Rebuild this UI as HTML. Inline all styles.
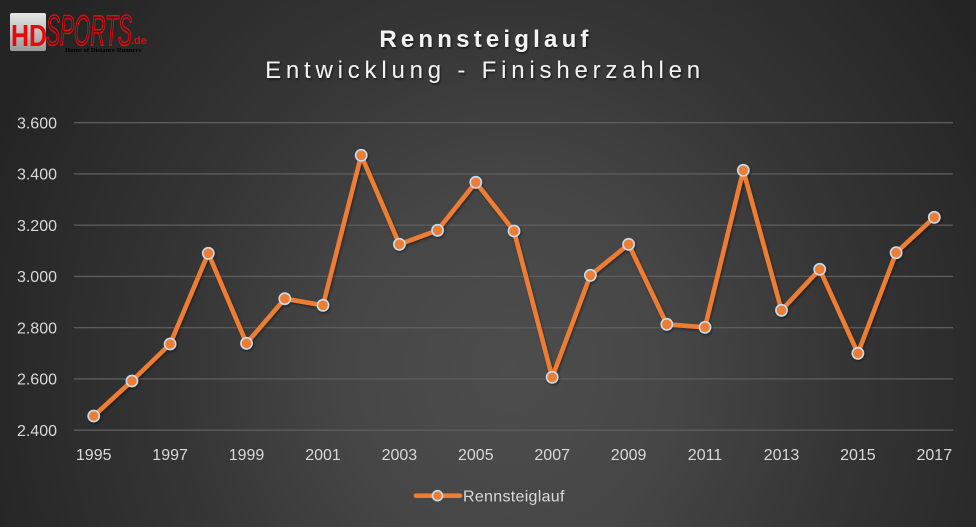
<!DOCTYPE html>
<html>
<head>
<meta charset="utf-8">
<style>
  html, body { margin: 0; padding: 0; }
  body { width: 976px; height: 527px; overflow: hidden; background: #333; }
  svg { display: block; }
</style>
</head>
<body>
<svg width="976" height="527" viewBox="0 0 976 527" xmlns="http://www.w3.org/2000/svg">
  <defs>
    <radialGradient id="bg" gradientUnits="userSpaceOnUse" cx="510" cy="370" r="600" gradientTransform="translate(510 370) scale(0.93 1) translate(-510 -370)">
      <stop offset="0" stop-color="#4d4d4d"/>
      <stop offset="0.3" stop-color="#464646"/>
      <stop offset="0.6" stop-color="#353535"/>
      <stop offset="1" stop-color="#242424"/>
    </radialGradient>
    <linearGradient id="hdbox" x1="0" y1="0" x2="0" y2="1">
      <stop offset="0" stop-color="#e6e6e6"/>
      <stop offset="1" stop-color="#9a9a9a"/>
    </linearGradient>
    <filter id="sh" x="-5%" y="-5%" width="110%" height="115%">
      <feDropShadow dx="1" dy="1.5" stdDeviation="1.2" flood-color="#000" flood-opacity="0.45"/>
    </filter>
    <filter id="tsh" x="-5%" y="-20%" width="110%" height="150%">
      <feDropShadow dx="1" dy="1.5" stdDeviation="1" flood-color="#000" flood-opacity="0.6"/>
    </filter>
  </defs>

  <rect x="0" y="0" width="976" height="527" fill="url(#bg)"/>

  <!-- Logo -->
  <g>
    <rect x="10" y="13" width="36" height="38" rx="2" fill="url(#hdbox)"/>
    <text x="11" y="46" font-family="Liberation Sans, sans-serif" font-weight="bold" font-size="31" fill="#e8070a" textLength="36" lengthAdjust="spacingAndGlyphs">HD</text>
    <text x="46" y="45" font-family="Liberation Sans, sans-serif" font-style="italic" font-size="43" fill="none" stroke="#e8070a" stroke-width="1.6" textLength="86" lengthAdjust="spacingAndGlyphs">SPORTS</text>
    <text x="131" y="44" font-family="Liberation Sans, sans-serif" font-weight="bold" font-size="11" fill="#e8070a">.de</text>
    <text x="65" y="52" font-family="Liberation Serif, serif" font-weight="bold" font-size="6.5" fill="#000" textLength="76" lengthAdjust="spacingAndGlyphs">Home of Distance Runners</text>
  </g>

  <!-- Titles -->
  <g filter="url(#tsh)" font-family="Liberation Sans, sans-serif" fill="#f2f2f2" text-anchor="middle">
    <text x="486" y="47" font-size="24" font-weight="bold" letter-spacing="4.2">Rennsteiglauf</text>
    <text x="485" y="78" font-size="24" letter-spacing="4.8">Entwicklung - Finisherzahlen</text>
  </g>

  <!-- Gridlines -->
  <g stroke="#5c5c5c" stroke-width="1.4">
    <line x1="74" y1="122.7" x2="953" y2="122.7"/>
    <line x1="74" y1="173.9" x2="953" y2="173.9"/>
    <line x1="74" y1="225.2" x2="953" y2="225.2"/>
    <line x1="74" y1="276.4" x2="953" y2="276.4"/>
    <line x1="74" y1="327.7" x2="953" y2="327.7"/>
    <line x1="74" y1="378.9" x2="953" y2="378.9"/>
    <line x1="74" y1="430.2" x2="953" y2="430.2"/>
  </g>

  <!-- Y labels -->
  <g font-family="Liberation Sans, sans-serif" font-size="16" fill="#d9d9d9" text-anchor="end">
    <text x="57" y="128.5">3.600</text>
    <text x="57" y="179.7">3.400</text>
    <text x="57" y="231">3.200</text>
    <text x="57" y="282.2">3.000</text>
    <text x="57" y="333.5">2.800</text>
    <text x="57" y="384.7">2.600</text>
    <text x="57" y="436">2.400</text>
  </g>

  <!-- X labels -->
  <g font-family="Liberation Sans, sans-serif" font-size="16" fill="#d9d9d9" text-anchor="middle">
    <text x="93.7" y="460">1995</text>
    <text x="170.1" y="460">1997</text>
    <text x="246.5" y="460">1999</text>
    <text x="323.0" y="460">2001</text>
    <text x="399.4" y="460">2003</text>
    <text x="475.8" y="460">2005</text>
    <text x="552.2" y="460">2007</text>
    <text x="628.6" y="460">2009</text>
    <text x="705.0" y="460">2011</text>
    <text x="781.5" y="460">2013</text>
    <text x="857.9" y="460">2015</text>
    <text x="934.3" y="460">2017</text>
  </g>

  <!-- Series -->
  <g filter="url(#sh)">
    <polyline fill="none" stroke="#ed7d31" stroke-width="4.6" stroke-linejoin="round" stroke-linecap="round"
      points="93.7,416 131.9,381 170.1,344 208.3,253.3 246.5,343.3 284.8,298.7 323.0,305.3 361.2,155.3 399.4,244.3 437.6,230.3 475.8,182.3 514.0,231 552.2,377.3 590.4,275.3 628.6,244.3 666.8,324.3 705.0,327.3 743.3,170.3 781.5,310.3 819.7,269.3 857.9,353.3 896.1,252.7 934.3,217.3"/>
    <g fill="#ed7d31" stroke="#c5dcf0" stroke-width="1.6">
      <circle cx="93.7" cy="416" r="5.6"/>
      <circle cx="131.9" cy="381" r="5.6"/>
      <circle cx="170.1" cy="344" r="5.6"/>
      <circle cx="208.3" cy="253.3" r="5.6"/>
      <circle cx="246.5" cy="343.3" r="5.6"/>
      <circle cx="284.8" cy="298.7" r="5.6"/>
      <circle cx="323.0" cy="305.3" r="5.6"/>
      <circle cx="361.2" cy="155.3" r="5.6"/>
      <circle cx="399.4" cy="244.3" r="5.6"/>
      <circle cx="437.6" cy="230.3" r="5.6"/>
      <circle cx="475.8" cy="182.3" r="5.6"/>
      <circle cx="514.0" cy="231" r="5.6"/>
      <circle cx="552.2" cy="377.3" r="5.6"/>
      <circle cx="590.4" cy="275.3" r="5.6"/>
      <circle cx="628.6" cy="244.3" r="5.6"/>
      <circle cx="666.8" cy="324.3" r="5.6"/>
      <circle cx="705.0" cy="327.3" r="5.6"/>
      <circle cx="743.3" cy="170.3" r="5.6"/>
      <circle cx="781.5" cy="310.3" r="5.6"/>
      <circle cx="819.7" cy="269.3" r="5.6"/>
      <circle cx="857.9" cy="353.3" r="5.6"/>
      <circle cx="896.1" cy="252.7" r="5.6"/>
      <circle cx="934.3" cy="217.3" r="5.6"/>
    </g>
  </g>

  <!-- Legend -->
  <g>
    <line x1="416" y1="495.7" x2="460" y2="495.7" stroke="#ed7d31" stroke-width="4.6" stroke-linecap="round"/>
    <circle cx="437.5" cy="495.7" r="5" fill="#ed7d31" stroke="#c5dcf0" stroke-width="1.6"/>
    <text x="463" y="501.5" font-family="Liberation Sans, sans-serif" font-size="16" fill="#d9d9d9" letter-spacing="0.3">Rennsteiglauf</text>
  </g>
</svg>
</body>
</html>
